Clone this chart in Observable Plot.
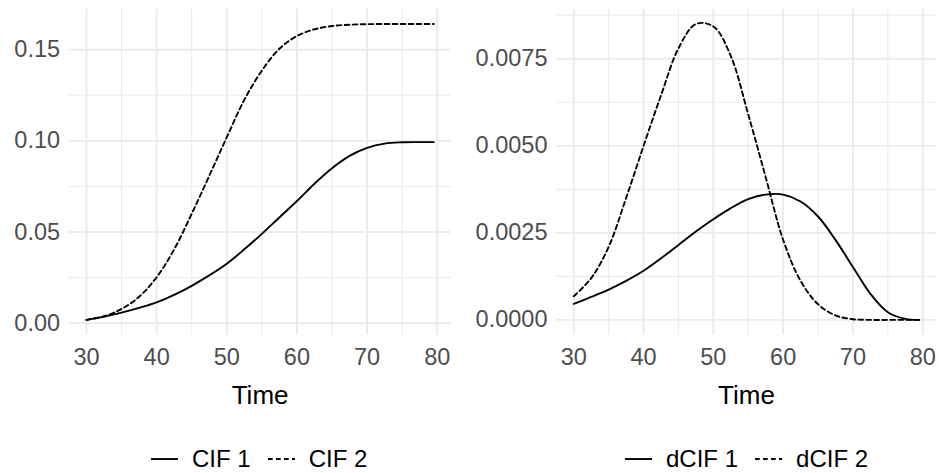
<!DOCTYPE html>
<html><head><meta charset="utf-8">
<script src="https://cdn.jsdelivr.net/npm/d3@7"></script>
<script src="https://cdn.jsdelivr.net/npm/@observablehq/plot@0.6"></script>
<style>
html,body{margin:0;padding:0;background:#fff;}
#root{position:relative;width:939px;height:473px;overflow:hidden;font-family:"Liberation Sans",Arial,Helvetica,sans-serif;}
.panel{position:absolute;top:0;}
.legend{position:absolute;top:444px;height:30px;display:flex;align-items:center;font-size:24px;color:#000;white-space:nowrap;}
.legend svg{display:block;}
</style></head><body><div id="root"></div>
<script>
// ---- data ----
const time = [30, 32.5, 35, 37.5, 40, 42.5, 45, 47.5, 50, 52.5, 55, 57.5, 60, 62.5, 65, 67.5, 70, 72.5, 75, 77.5, 79.5];
const cif1 = [0.0018, 0.0036, 0.0058, 0.0084, 0.0114, 0.0155, 0.0205, 0.0262, 0.0326, 0.0405, 0.049, 0.058, 0.067, 0.0765, 0.0850, 0.0918, 0.0962, 0.0985, 0.0992, 0.0993, 0.0993];
const cif2 = [0.0018, 0.0038, 0.0078, 0.0145, 0.0252, 0.0405, 0.060, 0.0808, 0.1020, 0.1225, 0.1385, 0.1505, 0.1575, 0.1612, 0.1630, 0.1637, 0.1640, 0.1641, 0.1641, 0.1641, 0.1641];
const dcif1 = [0.00046, 0.00066, 0.00087, 0.00112, 0.00141, 0.00177, 0.00215, 0.00254, 0.00289, 0.00321, 0.00347, 0.0036, 0.0036, 0.0034, 0.00297, 0.0023, 0.00152, 0.00075, 0.00022, 0.00003, 0];
const dcif2 = [0.00068, 0.0012, 0.0021, 0.0035, 0.0050, 0.00645, 0.0078, 0.0085, 0.00843, 0.00758, 0.0059, 0.0041, 0.0023, 0.00112, 0.00045, 0.00013, 0.00002, 0, 0, 0, 0];

const xTicks = [30, 40, 50, 60, 70, 80];
const xMinorTicks = [35, 45, 55, 65, 75];
const cifTicks = [0, 0.05, 0.10, 0.15];
const cifMinorTicks = [0.025, 0.075, 0.125];
const dcifTicks = [0, 0.0025, 0.0050, 0.0075];
const dcifMinorTicks = [0.00125, 0.00375, 0.00625, 0.00875];
const xLabel = "Time";
const cifNames = ["CIF 1", "CIF 2"];
const dcifNames = ["dCIF 1", "dCIF 2"];

const DASH = "4.7,3.3";
const FONT = '"Liberation Sans", Arial, Helvetica, sans-serif';

function expand([a, b]) { const p = (b - a) * 0.05; return [a - p, b + p]; }

function panel(cfg) {
  const rows = cfg.series.map(s => time.map((t, i) => ({t, v: s[i]})));
  const xDomain = expand(d3.extent(time));
  const yDomain = expand(d3.extent(cfg.series.flat()));
  const chart = Plot.plot({
    width: cfg.width, height: 420,
    marginLeft: cfg.marginLeft, marginRight: cfg.marginRight,
    marginTop: 8.7, marginBottom: 85.8,
    style: {fontFamily: FONT, background: "transparent", overflow: "visible"},
    x: {domain: xDomain},
    y: {domain: yDomain},
    marks: [
      Plot.gridX(xMinorTicks, {stroke: "#EBEBEB", strokeOpacity: 1, strokeWidth: 1.1}),
      Plot.gridY(cfg.yMinor, {stroke: "#EBEBEB", strokeOpacity: 1, strokeWidth: 1.1}),
      Plot.gridX(xTicks, {stroke: "#EBEBEB", strokeOpacity: 1, strokeWidth: 1.9}),
      Plot.gridY(cfg.yTicks, {stroke: "#EBEBEB", strokeOpacity: 1, strokeWidth: 1.9}),
      Plot.line(rows[0], {x: "t", y: "v", stroke: "#000", strokeWidth: 1.9, curve: "catmull-rom"}),
      Plot.line(rows[1], {x: "t", y: "v", stroke: "#000", strokeWidth: 1.9, curve: "catmull-rom", strokeDasharray: DASH}),
      Plot.axisX(xTicks, {tickSize: 0, tickPadding: 14, fontSize: 23.5, fill: "#4D4D4D", label: null}),
      Plot.axisY(cfg.yTicks, {tickSize: 0, tickPadding: 9, fontSize: 23.5, fill: "#4D4D4D", label: null, tickFormat: cfg.fmt}),
      Plot.text([xLabel], {text: d => d, frameAnchor: "bottom", lineAnchor: "bottom", dy: 69, fontSize: 26, fill: "#000"})
    ]
  });
  const wrap = document.createElement("div");
  wrap.className = "panel";
  wrap.style.left = cfg.left + "px";
  wrap.appendChild(chart);
  document.getElementById("root").appendChild(wrap);

  const leg = document.createElement("div");
  leg.className = "legend";
  leg.style.left = cfg.legendLeft + "px";
  cfg.names.forEach((name, i) => {
    const sw = d3.create("svg").attr("width", 27).attr("height", 20)
      .style("margin-right", "14px").style("margin-left", i ? "17px" : "0px");
    sw.append("line").attr("x1", 0).attr("x2", 27).attr("y1", 10).attr("y2", 10)
      .attr("stroke", "#000").attr("stroke-width", 1.9)
      .attr("stroke-dasharray", i ? DASH : null);
    leg.appendChild(sw.node());
    const sp = document.createElement("span");
    sp.textContent = name;
    leg.appendChild(sp);
  });
  document.getElementById("root").appendChild(leg);
}

panel({series: [cif1, cif2], yTicks: cifTicks, yMinor: cifMinorTicks, fmt: d3.format(".2f"),
  width: 470, marginLeft: 68.6, marginRight: 19.4, left: 0, names: cifNames, legendLeft: 151});
panel({series: [dcif1, dcif2], yTicks: dcifTicks, yMinor: dcifMinorTicks, fmt: d3.format(".4f"),
  width: 469, marginLeft: 86, marginRight: 3, left: 470, names: dcifNames, legendLeft: 625});
</script></body></html>
